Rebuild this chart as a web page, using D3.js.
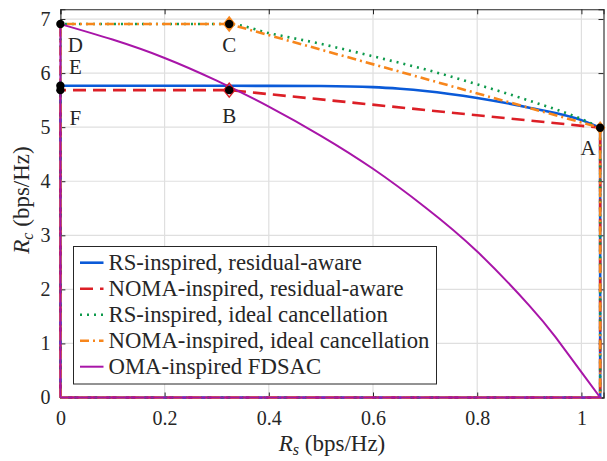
<!DOCTYPE html>
<html>
<head>
<meta charset="utf-8">
<script src="https://cdn.jsdelivr.net/npm/d3@7"></script>
<style>
  body { margin: 0; background: #fff; }
  svg { display: block; }
  text { font-family: "Liberation Serif", "Tinos", "Times New Roman", "DejaVu Serif", serif; fill: #262626; }
</style>
</head>
<body>
<svg id="chart"></svg>
<script>
// rate regions
var rsBlue = [0, 0.1, 0.2, 0.3, 0.4, 0.5, 0.6, 0.652, 0.7, 0.8, 0.9, 1.0, 1.036];
var rcBlue = [5.765, 5.765, 5.765, 5.765, 5.764, 5.76, 5.74, 5.71, 5.67, 5.54, 5.36, 5.13, 4.99];

var rsRed = [0, 0.324, 1.036];
var rcRed = [5.685, 5.685, 4.99];

var rsGreen = [0, 0.324, 0.4, 0.5, 0.6, 0.7, 0.8, 0.9, 1.0, 1.036];
var rcGreen = [6.907, 6.907, 6.74, 6.54, 6.31, 6.07, 5.79, 5.49, 5.15, 4.99];

var rsOrange = [0, 0.324, 1.036];
var rcOrange = [6.907, 6.907, 4.99];

var rsOma = [0, 0.1, 0.2, 0.3, 0.4, 0.5, 0.6, 0.7, 0.8, 0.9, 0.95, 1.0, 1.036];
var rcOma = [6.907, 6.62, 6.28, 5.86, 5.38, 4.84, 4.23, 3.52, 2.70, 1.70, 1.12, 0.47, 0];

// corner points
var pointNames = ["D", "E", "F", "C", "B", "A"];
var pointRs = [0, 0, 0, 0.324, 0.324, 1.036];
var pointRc = [6.907, 5.765, 5.685, 6.907, 5.685, 4.99];

var xTicks = [0, 0.2, 0.4, 0.6, 0.8, 1];
var yTicks = [0, 1, 2, 3, 4, 5, 6, 7];

var legendNames = [
  "RS-inspired, residual-aware",
  "NOMA-inspired, residual-aware",
  "RS-inspired, ideal cancellation",
  "NOMA-inspired, ideal cancellation",
  "OMA-inspired FDSAC"
];

var width = 607;
var height = 461;
var serif = "'Liberation Serif', 'Tinos', 'Times New Roman', 'DejaVu Serif', serif";

var x = d3.scaleLinear().domain([0, 1.0424]).range([60.4, 603.5]);
var y = d3.scaleLinear().domain([0, 7.18]).range([397.5, 9.3]);

var svg = d3.select("#chart")
    .attr("width", width)
    .attr("height", height);

// grid
svg.append("g")
  .selectAll("line")
  .data(xTicks.slice(1))
  .enter()
  .append("line")
    .attr("x1", d => x(d)).attr("x2", d => x(d))
    .attr("y1", y(0)).attr("y2", y(7.18))
    .attr("stroke", "#dfdfdf").attr("stroke-width", 1.2);

svg.append("g")
  .selectAll("line")
  .data(yTicks.slice(1))
  .enter()
  .append("line")
    .attr("x1", x(0)).attr("x2", x(1.0424))
    .attr("y1", d => y(d)).attr("y2", d => y(d))
    .attr("stroke", "#dfdfdf").attr("stroke-width", 1.2);

// axes, ticks pointing inward like matlab
var xAxis = d3.axisBottom(x).tickValues(xTicks).tickSize(-5).tickPadding(13)
    .tickFormat(d => d === 0 ? "0" : d === 1 ? "1" : d3.format(".1f")(d));
var yAxis = d3.axisLeft(y).tickValues(yTicks).tickSize(-5).tickPadding(10);

svg.append("g").attr("transform", "translate(0," + y(0) + ")").call(xAxis);
svg.append("g").attr("transform", "translate(" + x(0) + ",0)").call(yAxis);
svg.append("g").attr("transform", "translate(0," + y(7.18) + ")")
    .call(d3.axisTop(x).tickValues(xTicks).tickSize(-5).tickFormat(""));
svg.append("g").attr("transform", "translate(" + x(1.0424) + ",0)")
    .call(d3.axisRight(y).tickValues(yTicks).tickSize(-5).tickFormat(""));

svg.selectAll(".domain").attr("stroke", "#262626").attr("stroke-width", 1.1);
svg.selectAll(".tick line").attr("stroke", "#262626");
svg.selectAll("g").attr("font-family", null);
svg.selectAll(".tick text")
    .style("font-family", serif)
    .style("font-size", "20px")
    .attr("fill", "#262626");

// curves
function region(rs, rc, curve, closeRight) {
  var pts = rs.map((d, i) => [d, rc[i]]);
  var line = d3.line().x(d => x(d[0])).y(d => y(d[1])).curve(curve);
  var d = "M" + x(0) + "," + y(0) + "L" + line(pts).slice(1);
  var last = pts[pts.length - 1];
  if (closeRight) d += "L" + x(last[0]) + "," + y(0);
  d += "L" + x(0) + "," + y(0);
  return d;
}

var series = [
  { rs: rsBlue, rc: rcBlue, color: "#0a5ad8", w: 2.6, dash: null, curve: d3.curveMonotoneX },
  { rs: rsRed, rc: rcRed, color: "#dc1f26", w: 2.6, dash: "13,7", curve: d3.curveLinear },
  { rs: rsGreen, rc: rcGreen, color: "#0e9a4c", w: 2.6, dash: "2,5", curve: d3.curveMonotoneX },
  { rs: rsOrange, rc: rcOrange, color: "#f7861c", w: 2.6, dash: "9,4,2,4", curve: d3.curveLinear },
  { rs: rsOma, rc: rcOma, color: "#a815a8", w: 2, dash: null, curve: d3.curveNatural }
];

svg.append("g")
  .selectAll("path")
  .data(series)
  .enter()
  .append("path")
    .attr("d", s => region(s.rs, s.rc, s.curve, s.rs !== rsOma))
    .attr("fill", "none")
    .attr("stroke", s => s.color)
    .attr("stroke-width", s => s.w)
    .attr("stroke-dasharray", s => s.dash);

// diamonds at C, B, A
function diamond(cx, cy, r) {
  return "M" + cx + "," + (cy - r) + "L" + (cx + r * 0.78) + "," + cy +
         "L" + cx + "," + (cy + r) + "L" + (cx - r * 0.78) + "," + cy + "Z";
}
var diamonds = [
  { i: 3, color: "#f7861c", fill: "#f7861c", r: 7 },
  { i: 4, color: "#dc1f26", fill: "none", r: 7 },
  { i: 5, color: "#f7861c", fill: "none", r: 5.5 }
];
svg.append("g")
  .selectAll("path")
  .data(diamonds)
  .enter()
  .append("path")
    .attr("d", d => diamond(x(pointRs[d.i]), y(pointRc[d.i]), d.r))
    .attr("fill", d => d.fill)
    .attr("stroke", d => d.color)
    .attr("stroke-width", 1.5);

svg.append("g")
  .selectAll("circle")
  .data(pointNames)
  .enter()
  .append("circle")
    .attr("cx", (d, i) => x(pointRs[i]))
    .attr("cy", (d, i) => y(pointRc[i]))
    .attr("r", 4.2)
    .attr("fill", "#000");

// point labels
var labelDx = [15, 15, 15, 0, 0, -12];
var labelDy = [21, -19, 28, 21, 26, 20];
svg.append("g")
  .selectAll("text")
  .data(pointNames)
  .enter()
  .append("text")
    .attr("x", (d, i) => x(pointRs[i]) + labelDx[i])
    .attr("y", (d, i) => y(pointRc[i]) + labelDy[i])
    .attr("text-anchor", "middle")
    .attr("dominant-baseline", "central")
    .style("font-size", "21px")
    .attr("fill", "#000")
    .text(d => d);

// axis titles
var xt = svg.append("text")
    .attr("x", 332).attr("y", 451)
    .attr("text-anchor", "middle")
    .style("font-size", "23px");
xt.append("tspan").style("font-style", "italic").text("R");
xt.append("tspan").style("font-style", "italic").style("font-size", "16px").attr("dy", 4).text("s");
xt.append("tspan").attr("dy", -4).text(" (bps/Hz)");

var yt = svg.append("text")
    .attr("transform", "translate(29,200) rotate(-90)")
    .attr("text-anchor", "middle")
    .style("font-size", "23px");
yt.append("tspan").style("font-style", "italic").text("R");
yt.append("tspan").style("font-style", "italic").style("font-size", "16px").attr("dy", 4).text("c");
yt.append("tspan").attr("dy", -4).text(" (bps/Hz)");

// legend
var legend = svg.append("g");
legend.append("rect")
    .attr("x", 73.5).attr("y", 246.5)
    .attr("width", 363).attr("height", 137.5)
    .attr("fill", "#fff")
    .attr("stroke", "#262626").attr("stroke-width", 1);

var rows = legend.selectAll(".row")
  .data(series)
  .enter()
  .append("g")
    .attr("transform", (d, i) => "translate(0," + (262.7 + i * 26) + ")");

rows.append("line")
    .attr("x1", 80).attr("x2", 103.5)
    .attr("stroke", s => s.color)
    .attr("stroke-width", s => s.w)
    .attr("stroke-dasharray", s => s.dash);

rows.append("text")
    .attr("x", 108.5)
    .attr("dominant-baseline", "central")
    .style("font-size", "21px")
    .attr("fill", "#000")
    .text((d, i) => legendNames[i]);

// stretch legend text to the width seen in the reference
var lastRow = rows.select("text").nodes()[3];
var want = 321;
var have = lastRow.getComputedTextLength();
rows.select("text").style("font-size", (21 * want / have).toFixed(2) + "px");
</script>
</body>
</html>
